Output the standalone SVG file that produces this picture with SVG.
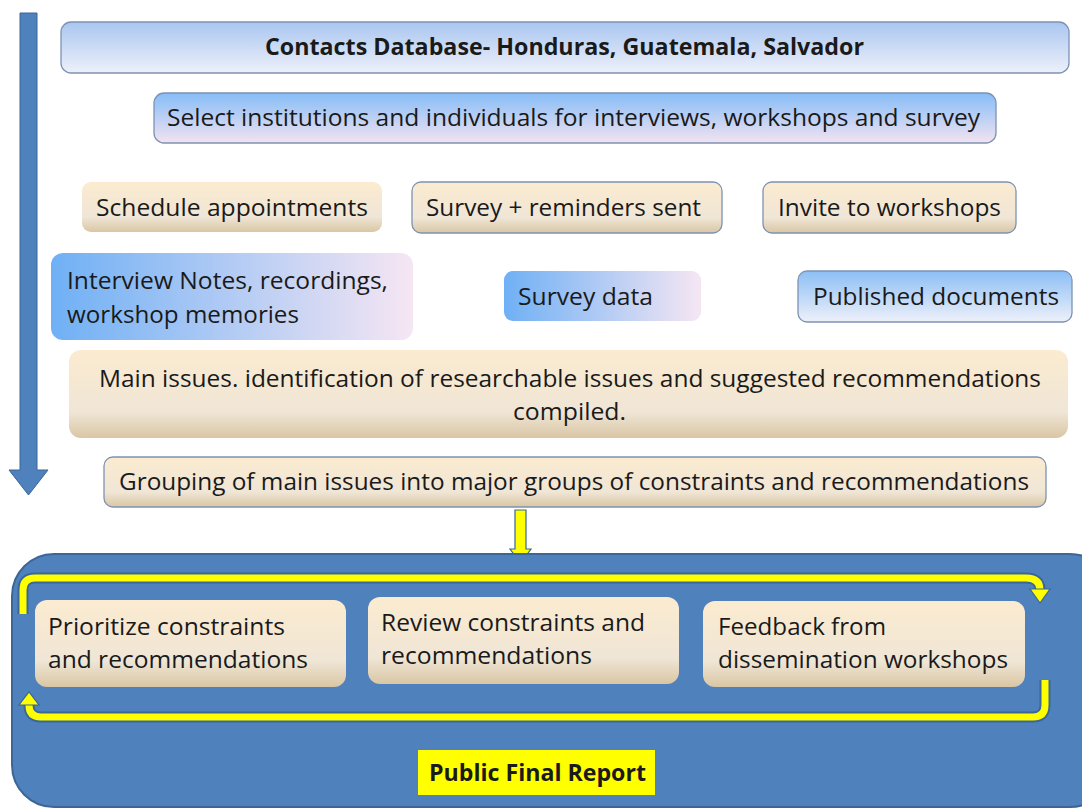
<svg xmlns="http://www.w3.org/2000/svg" width="1082" height="810" viewBox="0 0 1082 810">
<defs>
<linearGradient id="gBlueV" x1="0" y1="0" x2="0" y2="1"><stop offset="0" stop-color="#a9c6f0"/><stop offset="1" stop-color="#eef0fa"/></linearGradient>
<linearGradient id="gSel" x1="0" y1="0" x2="0" y2="1"><stop offset="0" stop-color="#86bdf7"/><stop offset="1" stop-color="#f3e3f1"/></linearGradient>
<linearGradient id="gBlueH" x1="0" y1="0" x2="1" y2="0"><stop offset="0" stop-color="#6fb0f5"/><stop offset="1" stop-color="#f6e6f3"/></linearGradient>
<linearGradient id="gBeige" x1="0" y1="0" x2="0" y2="1"><stop offset="0" stop-color="#fbebd0"/><stop offset="0.7" stop-color="#f0e6d6"/><stop offset="1" stop-color="#d9c6a4"/></linearGradient>
<linearGradient id="gPub" x1="0" y1="0" x2="0" y2="1"><stop offset="0" stop-color="#8cbff5"/><stop offset="1" stop-color="#eef0fa"/></linearGradient>
<style>
.t{font-family:"Open Sans","Liberation Sans",sans-serif;font-size:23px;fill:#1a1a1a}
.b{font-weight:bold}
.bord{stroke:#7d93b3;stroke-width:1.3}
.beige{fill:url(#gBeige)}
.loopOut{fill:none;stroke:#3b6696;stroke-width:11}
.loopIn{fill:none;stroke:#ffff00;stroke-width:7}
.head{fill:#ffff00;stroke:#3b6696;stroke-width:1.2}
</style>
</defs>
<rect width="1082" height="810" fill="#ffffff"/>

<g id="connectors">
<polygon id="timeline" points="20,13 37,13 37,470 48,470 28.5,495 9,470 20,470" fill="#4f81bd" stroke="#3b6696" stroke-width="1"/>
<polygon id="down-yellow" points="515,510 526,510 526,549 531,549 520.5,563 510,549 515,549" fill="#ffff00" stroke="#3b6696" stroke-width="1.2"/>
</g>

<g id="n-contacts"><rect x="61" y="22" width="1008" height="51" rx="10" fill="url(#gBlueV)" class="bord"/>
<text class="t b" x="265" y="55" font-size="21" textLength="599" lengthAdjust="spacingAndGlyphs">Contacts Database- Honduras, Guatemala, Salvador</text></g>

<g id="n-select"><rect x="154" y="93" width="842" height="50" rx="10" fill="url(#gSel)" class="bord"/>
<text class="t" x="167" y="126" textLength="813" lengthAdjust="spacingAndGlyphs">Select institutions and individuals for interviews, workshops and survey</text></g>

<g id="n-schedule"><rect x="82" y="182" width="300" height="50" rx="9" class="beige"/>
<text class="t" x="96" y="216" textLength="272" lengthAdjust="spacingAndGlyphs">Schedule appointments</text></g>

<g id="n-survey"><rect x="412" y="182" width="310" height="51" rx="9" class="beige bord"/>
<text class="t" x="426" y="216" textLength="275" lengthAdjust="spacingAndGlyphs">Survey + reminders sent</text></g>

<g id="n-invite"><rect x="763" y="182" width="253" height="51" rx="9" class="beige bord"/>
<text class="t" x="778" y="216" textLength="223" lengthAdjust="spacingAndGlyphs">Invite to workshops</text></g>

<g id="n-interview"><rect x="51" y="253" width="362" height="87" rx="12" fill="url(#gBlueH)"/>
<text class="t" x="67" y="289" textLength="321" lengthAdjust="spacingAndGlyphs">Interview Notes, recordings,</text>
<text class="t" x="67" y="323" textLength="232" lengthAdjust="spacingAndGlyphs">workshop memories</text></g>

<g id="n-surveydata"><rect x="504" y="271" width="197" height="50" rx="9" fill="url(#gBlueH)"/>
<text class="t" x="518" y="305" textLength="135" lengthAdjust="spacingAndGlyphs">Survey data</text></g>

<g id="n-published"><rect x="798" y="271" width="274" height="51" rx="9" fill="url(#gPub)" class="bord"/>
<text class="t" x="813" y="305" textLength="246" lengthAdjust="spacingAndGlyphs">Published documents</text></g>

<g id="n-main"><rect x="69" y="350" width="999" height="88" rx="12" class="beige"/>
<text class="t" x="99" y="387" textLength="942" lengthAdjust="spacingAndGlyphs">Main issues. identification of researchable issues and suggested recommendations</text>
<text class="t" x="513" y="420" textLength="113" lengthAdjust="spacingAndGlyphs">compiled.</text></g>

<g id="n-grouping"><rect x="104" y="457" width="942" height="50" rx="9" class="beige bord"/>
<text class="t" x="119" y="490" textLength="910" lengthAdjust="spacingAndGlyphs">Grouping of main issues into major groups of constraints and recommendations</text></g>

<g id="n-cycle">
<rect x="12" y="554" width="1100" height="253" rx="42" fill="#4f81bd" stroke="#3b6696" stroke-width="2"/>
<path class="loopOut" d="M23,614 V590 Q23,578 35,578 H1026 Q1040,578 1040,590"/>
<path class="loopIn" d="M23,614 V590 Q23,578 35,578 H1026 Q1040,578 1040,590"/>
<polygon class="head" points="1030,589 1050,589 1040,603"/>
<path class="loopOut" d="M1045,680 V705 Q1045,717 1033,717 H41 Q29,717 29,705"/>
<path class="loopIn" d="M1045,680 V705 Q1045,717 1033,717 H41 Q29,717 29,705"/>
<polygon class="head" points="19,705 39,705 29,692"/>
</g>

<g id="n-prioritize"><rect x="35" y="600" width="311" height="87" rx="12" class="beige"/>
<text class="t" x="48" y="635" textLength="237" lengthAdjust="spacingAndGlyphs">Prioritize constraints</text>
<text class="t" x="48" y="668" textLength="260" lengthAdjust="spacingAndGlyphs">and recommendations</text></g>

<g id="n-review"><rect x="368" y="597" width="311" height="87" rx="12" class="beige"/>
<text class="t" x="381" y="631" textLength="264" lengthAdjust="spacingAndGlyphs">Review constraints and</text>
<text class="t" x="381" y="664" textLength="211" lengthAdjust="spacingAndGlyphs">recommendations</text></g>

<g id="n-feedback"><rect x="703" y="601" width="322" height="86" rx="12" class="beige"/>
<text class="t" x="718" y="635" textLength="168" lengthAdjust="spacingAndGlyphs">Feedback from</text>
<text class="t" x="718" y="668" textLength="290" lengthAdjust="spacingAndGlyphs">dissemination workshops</text></g>

<g id="n-report"><rect x="418" y="750" width="237" height="45" fill="#ffff00"/>
<text class="t b" x="429" y="781" font-size="21" textLength="217" lengthAdjust="spacingAndGlyphs">Public Final Report</text></g>
</svg>
